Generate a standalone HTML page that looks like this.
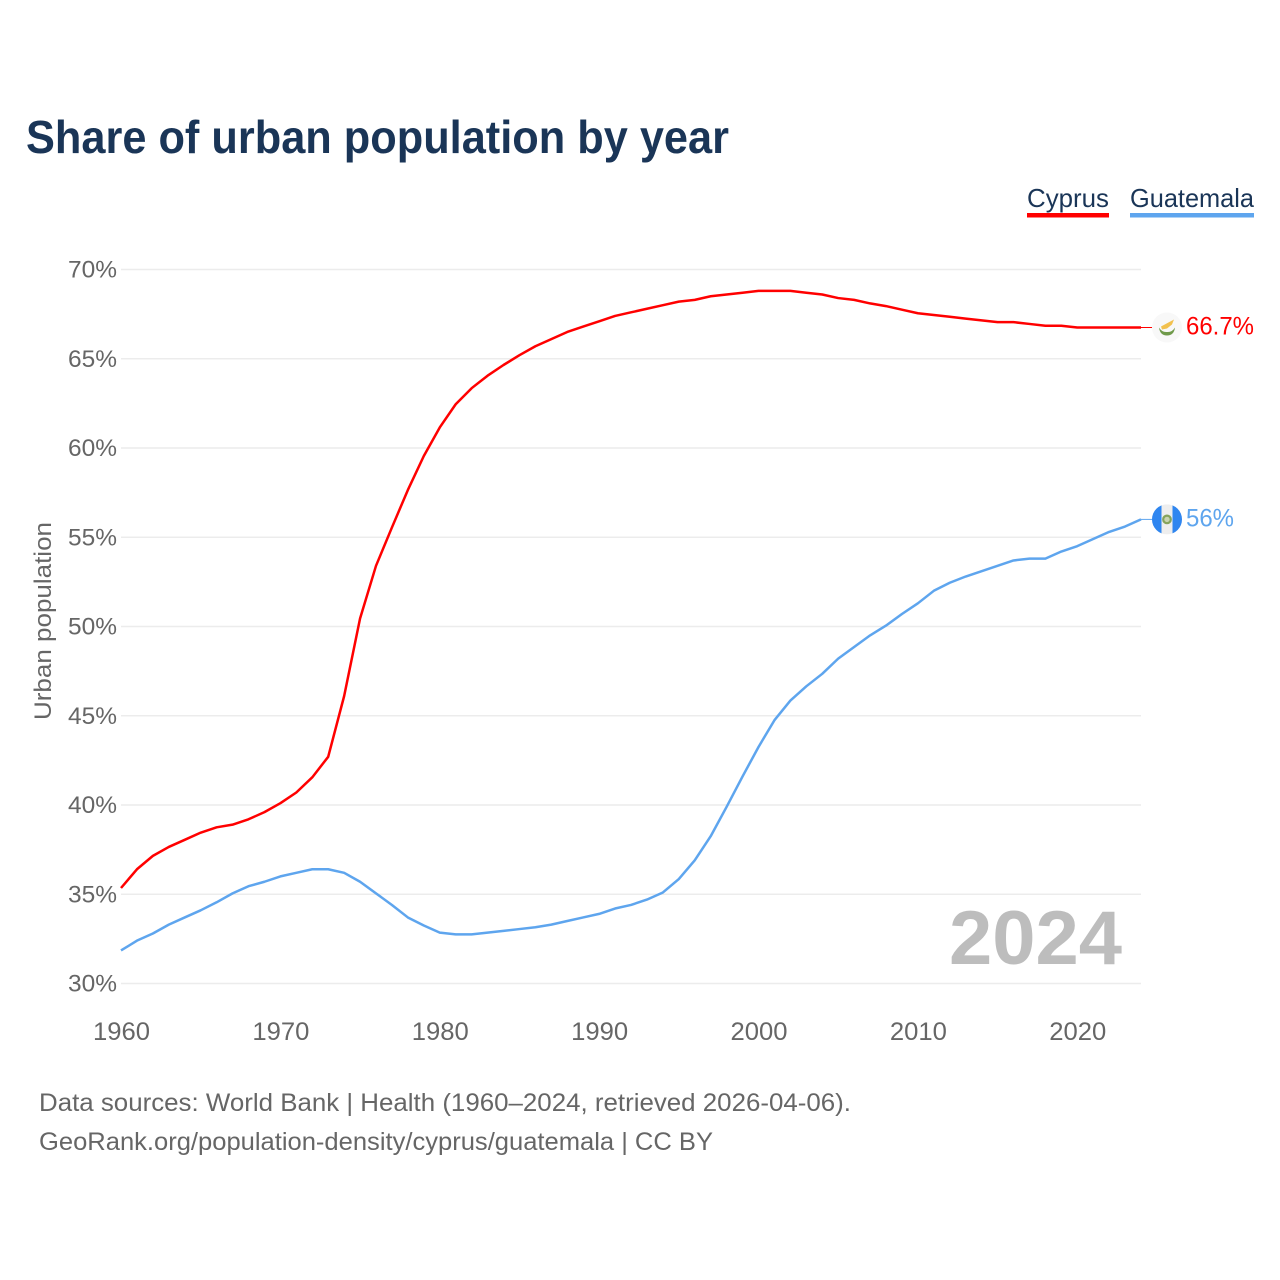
<!DOCTYPE html>
<html lang="en">
<head>
<meta charset="utf-8">
<title>Share of urban population by year</title>
<style>
html,body{margin:0;padding:0;background:#fff;}
svg{display:block;font-family:"Liberation Sans",sans-serif;}
</style>
</head>
<body>
<svg id="chart" xmlns="http://www.w3.org/2000/svg" width="1280" height="1280" viewBox="0 0 1280 1280">
<rect width="1280" height="1280" fill="#fff"/>
<text x="26" y="153" font-size="46" font-weight="700" fill="#1a3557" textLength="703" lengthAdjust="spacingAndGlyphs">Share of urban population by year</text>
<g>
<g>
<text x="1027" y="207" font-size="26" fill="#1a3557" textLength="82" lengthAdjust="spacingAndGlyphs">Cyprus</text>
<rect x="1027" y="213" width="82" height="4.5" fill="#ff0000"/>
</g>
<g>
<text x="1130" y="207" font-size="26" fill="#1a3557" textLength="124" lengthAdjust="spacingAndGlyphs">Guatemala</text>
<rect x="1130" y="213" width="124" height="4.5" fill="#5ea5ee"/>
</g>
</g>
<g id="grid"></g>
<g id="yticks"></g>
<g id="xticks"></g>
<text transform="translate(51 621) rotate(-90)" text-anchor="middle" font-size="24.5" fill="#666" textLength="198" lengthAdjust="spacingAndGlyphs">Urban population</text>
<text x="949" y="964" font-size="76" font-weight="700" fill="#bdbdbd" textLength="173" lengthAdjust="spacingAndGlyphs">2024</text>
<g id="series"></g>
<defs>
<clipPath id="flag-clip"><circle cx="0" cy="0" r="15"/></clipPath>
</defs>
<g id="flag-cy">
<circle r="15" fill="#f8f8f8"/>
<path d="M-6 -1 L7 -8 L5 -3 L0 1 L-5 2 Z" fill="#f2c14e"/>
<path d="M-8 0 Q-7 8 0 8 Q7 8 8 0 Q5 5 0 4.5 Q-5 5 -8 0 Z" fill="#6f9a4a"/>
</g>
<g id="flag-gt">
<g clip-path="url(#flag-clip)">
<rect x="-15" y="-15" width="30" height="30" fill="#eeeeee"/>
<rect x="-15" y="-15" width="9.5" height="30" fill="#2f86f0"/>
<rect x="5.5" y="-15" width="9.5" height="30" fill="#2f86f0"/>
</g>
<circle r="3.8" fill="#c9d4b0" stroke="#86a45c" stroke-width="2.2"/>
</g>
<text id="label-cy" x="1186" font-size="25" fill="#ff0000" textLength="68" lengthAdjust="spacingAndGlyphs"></text>
<text id="label-gt" x="1186" font-size="25" fill="#5ea5ee" textLength="48" lengthAdjust="spacingAndGlyphs"></text>
<text x="39" y="1111" font-size="25" fill="#666" textLength="812" lengthAdjust="spacingAndGlyphs">Data sources: World Bank | Health (1960–2024, retrieved 2026-04-06).</text>
<text x="39" y="1150" font-size="25" fill="#666" textLength="674" lengthAdjust="spacingAndGlyphs">GeoRank.org/population-density/cyprus/guatemala | CC BY</text>
</svg>
<script>
var years = [1960,1961,1962,1963,1964,1965,1966,1967,1968,1969,1970,1971,1972,1973,1974,1975,1976,1977,1978,1979,1980,1981,1982,1983,1984,1985,1986,1987,1988,1989,1990,1991,1992,1993,1994,1995,1996,1997,1998,1999,2000,2001,2002,2003,2004,2005,2006,2007,2008,2009,2010,2011,2012,2013,2014,2015,2016,2017,2018,2019,2020,2021,2022,2023,2024];
var cyprusValues = [35.35,36.4,37.15,37.65,38.05,38.45,38.75,38.9,39.2,39.6,40.1,40.7,41.55,42.7,46.1,50.45,53.4,55.55,57.65,59.55,61.15,62.45,63.35,64.05,64.65,65.2,65.7,66.1,66.5,66.8,67.1,67.4,67.6,67.8,68.0,68.2,68.3,68.5,68.6,68.7,68.8,68.8,68.8,68.7,68.6,68.4,68.3,68.1,67.95,67.75,67.55,67.45,67.35,67.25,67.15,67.05,67.05,66.95,66.85,66.85,66.75,66.75,66.75,66.75,66.75];
var guatemalaValues = [31.85,32.4,32.8,33.3,33.7,34.1,34.55,35.05,35.45,35.7,36.0,36.2,36.4,36.4,36.2,35.7,35.05,34.4,33.7,33.25,32.85,32.75,32.75,32.85,32.95,33.05,33.15,33.3,33.5,33.7,33.9,34.2,34.4,34.7,35.1,35.85,36.9,38.25,39.9,41.6,43.25,44.75,45.85,46.65,47.35,48.2,48.85,49.5,50.05,50.7,51.3,52.0,52.45,52.8,53.1,53.4,53.7,53.8,53.8,54.2,54.5,54.9,55.3,55.6,56.0];
var yTickValues = [30,35,40,45,50,55,60,65,70];
var xTickValues = [1960,1970,1980,1990,2000,2010,2020];
var cyprusEndLabel = "66.7%";
var guatemalaEndLabel = "56%";

var NS = "http://www.w3.org/2000/svg";
function xScale(year){ return 121 + (year - 1960) * (1141 - 121) / 64; }
function yScale(v){ return 983.5 - (v - 30) * (983.5 - 269.5) / 40; }
function make(tag, parent, attrs){
  var el = document.createElementNS(NS, tag);
  for (var k in attrs) el.setAttribute(k, attrs[k]);
  parent.appendChild(el);
  return el;
}
var gridG = document.getElementById("grid");
var yG = document.getElementById("yticks");
var xG = document.getElementById("xticks");
var seriesG = document.getElementById("series");

yTickValues.forEach(function(v){
  var line = make("line", gridG, {x1:121, x2:1141, y1:yScale(v), y2:yScale(v), stroke:"#ececec", "stroke-width":1.5});
  
  
  var t = make("text", yG, {x:68, y:yScale(v)+8, "font-size":24, fill:"#666", textLength:49, lengthAdjust:"spacingAndGlyphs"});
  t.textContent = v + "%";
  
  
});
xTickValues.forEach(function(y){
  var t = make("text", xG, {x:xScale(y)-28, y:1040, "font-size":25, fill:"#666", textLength:57, lengthAdjust:"spacingAndGlyphs"});
  t.textContent = y;
  
  
});
function linePoints(values){
  return values.map(function(v, i){ return xScale(years[i]).toFixed(2) + "," + yScale(v).toFixed(2); }).join(" ");
}
var cyLine = make("polyline", seriesG, {points:linePoints(cyprusValues), fill:"none", stroke:"#ff0000", "stroke-width":2.5, "stroke-linejoin":"round"});


var gtLine = make("polyline", seriesG, {points:linePoints(guatemalaValues), fill:"none", stroke:"#5ea5ee", "stroke-width":2.5, "stroke-linejoin":"round"});



var cyEndY = yScale(cyprusValues[cyprusValues.length - 1]);
var gtEndY = yScale(guatemalaValues[guatemalaValues.length - 1]);
var cyConnector = make("line", seriesG, {x1:1141, x2:1152, y1:cyEndY, y2:cyEndY, stroke:"#ff0000", "stroke-width":1});


var gtConnector = make("line", seriesG, {x1:1141, x2:1152, y1:gtEndY, y2:gtEndY, stroke:"#5ea5ee", "stroke-width":1});


document.getElementById("flag-cy").setAttribute("transform", "translate(1167 " + cyEndY + ")");
document.getElementById("flag-gt").setAttribute("transform", "translate(1167 " + gtEndY + ")");
var labelCy = document.getElementById("label-cy");
labelCy.setAttribute("y", cyEndY + 7);
labelCy.textContent = cyprusEndLabel;
var labelGt = document.getElementById("label-gt");
labelGt.setAttribute("y", gtEndY + 7);
labelGt.textContent = guatemalaEndLabel;
</script>
</body>
</html>
